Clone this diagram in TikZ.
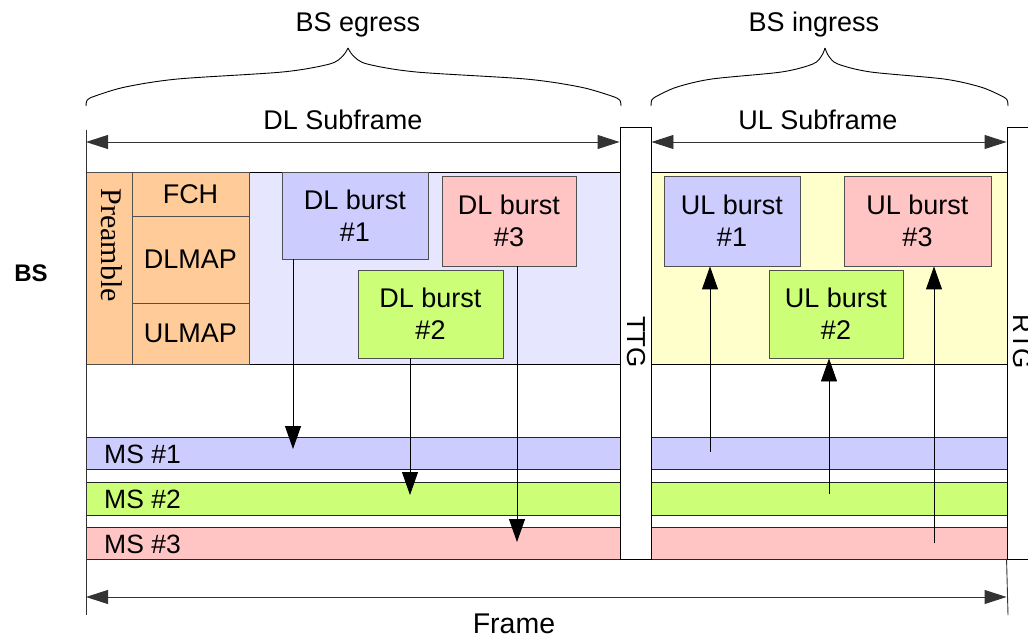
\documentclass[tikz,border=0pt]{standalone}
\usepackage{fontspec}
\setmainfont{Liberation Sans}
\newfontfamily\preamblefont{Liberation Serif}
\usetikzlibrary{arrows.meta}

\definecolor{dlbg}{HTML}{E6E6FF}
\definecolor{ulbg}{HTML}{FFFFCC}
\definecolor{ctrl}{HTML}{FFCC99}
\definecolor{blueb}{HTML}{CCCCFF}
\definecolor{pinkb}{HTML}{FFC4C4}
\definecolor{greenb}{HTML}{CCFF77}
\definecolor{edge}{HTML}{505050}

% rectangular block given by its corners: name, x1, y1, x2, y2, style, text
\newcommand\blockat[7]{%
  \node[#6, minimum width={#4-#2}, minimum height={#5-#3}] (#1)
    at ({(#2+#4)/2},{(#3+#5)/2}) {#7};}

% one half of a curly brace: end x, tip x
\newcommand\halfbrace[2]{%
  \draw[brace] plot[smooth] coordinates {(#1,106) ({#1+0.005*(#2-#1)},100)
    ({#1+0.035*(#2-#1)},96) ({#1+0.15*(#2-#1)},87) ({#1+0.35*(#2-#1)},79)
    ({#1+0.75*(#2-#1)},72) ({#1+0.93*(#2-#1)},64) ({#1+0.98*(#2-#1)},56) (#2,48)};}

\begin{document}
\begin{tikzpicture}[x=1pt, y=-1pt,
  font=\fontsize{27}{32}\selectfont,
  panel/.style={draw=black, line width=0.9pt, inner sep=0pt},
  box/.style={draw=edge, line width=0.9pt, inner sep=0pt, align=center},
  gap/.style={draw=black, line width=0.9pt, fill=white, inner sep=0pt},
  bar/.style={draw=black!85, line width=0.9pt, inner sep=0pt},
  mslabel/.style={anchor=west, inner sep=0pt, font=\fontsize{26.5}{30}\selectfont},
  flow/.style={line width=0.9pt, -{Triangle[length=23pt, width=16pt]}},
  dim/.style={line width=0.9pt, black!80,
    {Triangle[length=22pt, width=14pt]}-{Triangle[length=22pt, width=14pt]}},
  brace/.style={line width=0.9pt},
  vlabel/.style={rotate=-90, inner sep=0pt, font=\fontsize{26}{26}\selectfont}]
\useasboundingbox (0,0) rectangle (1028,636);

% subframe backgrounds
\blockat{dlbg}{86}{172}{620}{364}{panel, fill=dlbg}{}
\blockat{ulbg}{651}{172}{1007}{364}{panel, fill=ulbg}{}

% preamble and control fields
\blockat{pre}{86}{172}{132}{364}{box, fill=ctrl}{}
\node[rotate=-90, inner sep=0pt, font=\preamblefont\fontsize{30}{30}\selectfont] (prelabel) at (112,245) {Preamble};
\blockat{fch}{132}{172}{249}{216}{box, fill=ctrl}{FCH}
\blockat{dlmap}{132}{216}{249}{303}{box, fill=ctrl}{DLMAP}
\blockat{ulmap}{132}{303}{249}{364}{box, fill=ctrl}{ULMAP}

% downlink bursts
\blockat{dl1}{282}{172}{428}{259}{box, fill=blueb}{DL burst\\\#1}
\blockat{dl3}{442}{176}{576}{266}{box, fill=pinkb}{DL burst\\\#3}
\blockat{dl2}{358}{270}{503}{358}{box, fill=greenb}{DL burst\\\#2}

% uplink bursts
\blockat{ul1}{664}{176}{800}{266}{box, fill=blueb}{UL burst\\\#1}
\blockat{ul3}{844}{176}{991}{266}{box, fill=pinkb}{UL burst\\\#3}
\blockat{ul2}{769}{270}{903}{358}{box, fill=greenb}{UL burst\\\#2}

% mobile station rows
\blockat{ms1a}{86}{437}{620}{469}{bar, fill=blueb}{}
\blockat{ms1b}{651}{437}{1007}{469}{bar, fill=blueb}{}
\blockat{ms2a}{86}{482}{620}{515}{bar, fill=greenb}{}
\blockat{ms2b}{651}{482}{1007}{515}{bar, fill=greenb}{}
\blockat{ms3a}{86}{527}{620}{559}{bar, fill=pinkb}{}
\blockat{ms3b}{651}{527}{1007}{559}{bar, fill=pinkb}{}
\node[mslabel] (ms1t) at (104,454) {MS \#1};
\node[mslabel] (ms2t) at (104,499) {MS \#2};
\node[mslabel] (ms3t) at (104,544) {MS \#3};

% transition gaps
\blockat{ttg}{620}{127}{651}{559}{gap}{}
\blockat{rtg}{1007}{127}{1060}{559}{gap}{}
\node[vlabel] (ttgt) at (636,342) {TTG};
\node[vlabel] (rtgt) at (1022,342) {RTG};

% burst columns
\coordinate (c1) at (293,0);
\coordinate (c2) at (410,0);
\coordinate (c3) at (517,0);
\coordinate (c4) at (710,0);
\coordinate (c5) at (829,0);
\coordinate (c6) at (934,0);

% downlink: bursts to stations
\draw[flow] (dl1.south -| c1) -- ([yshift=4pt]ms1a.center -| c1);
\draw[flow] (dl2.south -| c2) -- ([yshift=3.5pt]ms2a.center -| c2);
\draw[flow] (dl3.south -| c3) -- ([yshift=1pt]ms3a.center -| c3);

% uplink: stations to bursts
\draw[flow] ([yshift=1pt]ms1b.center -| c4) -- (ul1.south -| c4);
\draw[flow] ([yshift=4.5pt]ms2b.center -| c5) -- (ul2.south -| c5);
\draw[flow] (ms3b.center -| c6) -- (ul3.south -| c6);

% extent lines
\coordinate (ltop) at (86,130);
\coordinate (lbot) at (86,615);
\coordinate (rbot) at (1008,615);
\draw[line width=0.9pt, black!80] (ltop) -- (lbot);
\draw[line width=0.9pt, black!80] (rtg.south west) -- (rbot);

% dimension arrows
\coordinate (dimrow) at (0,142);
\coordinate (framerow) at (0,597);
\draw[dim] (ltop |- dimrow) -- (ttg.west |- dimrow);
\draw[dim] (ttg.east |- dimrow) -- (rtg.west |- dimrow);
\draw[dim] (ltop |- framerow) -- (rtg.west |- framerow);

\node[anchor=base] (dltext) at (343,130) {DL Subframe};
\node[anchor=base] (ultext) at (818,130) {UL Subframe};
\node[anchor=base, font=\fontsize{28.5}{28.5}\selectfont] (frametext) at (514,633) {Frame};

% braces
\halfbrace{86}{348}
\halfbrace{621}{348}
\halfbrace{651}{825}
\halfbrace{1008}{825}
\node[anchor=base] (egress) at (358,32) {BS egress};
\node[anchor=base] (ingress) at (814,32) {BS ingress};

% station label
\node[font=\bfseries\fontsize{24}{24}\selectfont] (bs) at (31,273) {BS};
\end{tikzpicture}
\end{document}
